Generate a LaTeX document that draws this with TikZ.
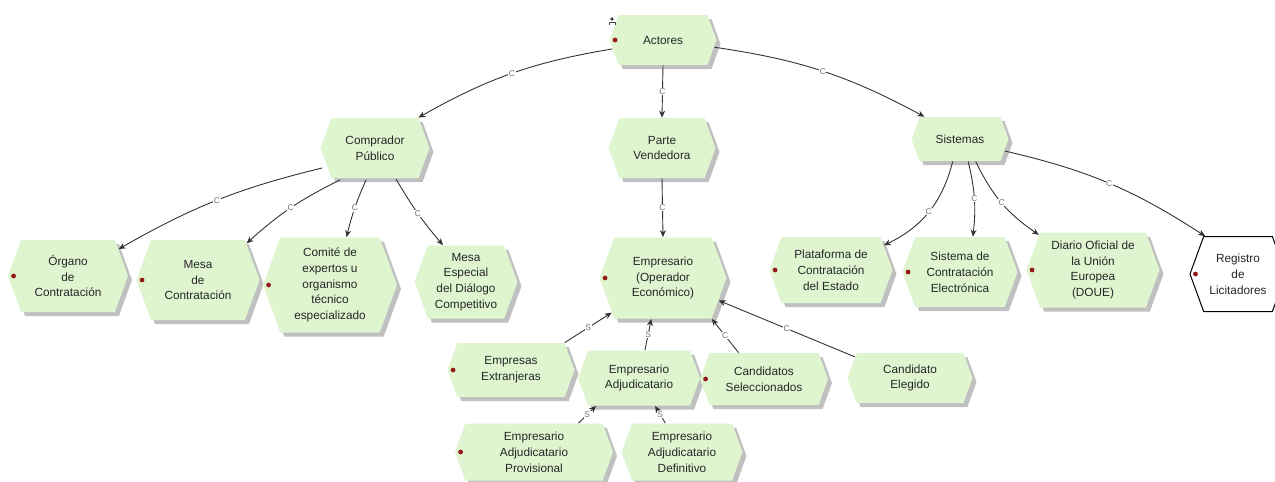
\documentclass[tikz,border=0pt]{standalone}
\usepackage{fontspec}
\setmainfont{Liberation Sans}
\usetikzlibrary{shapes.symbols,shadows,arrows.meta}
\definecolor{fngreen}{RGB}{222,245,208}
\definecolor{dotred}{RGB}{150,25,25}
\definecolor{shadowgray}{RGB}{192,192,192}

\begin{document}
\begin{tikzpicture}[x=0.5pt,y=-0.5pt,
  fn/.style={signal, signal to=east and west, signal pointer angle=140,
    fill=fngreen, draw=none, inner sep=1pt, align=center, text=black!85,
    font=\fontsize{5.9}{7.9}\selectfont,
    drop shadow={opacity=1, fill=shadowgray, shadow xshift=2pt, shadow yshift=-2pt}},
  ext/.style={signal, signal to=east and west, signal pointer angle=140,
    fill=white, draw=black, line width=0.5pt, inner sep=1pt, align=center,
    text=black!85, font=\fontsize{5.9}{7.9}\selectfont},
  rel/.style={draw=black!80, line width=0.45pt, -{Stealth[length=3.5pt,width=3pt]}},
  lb/.style={font=\fontsize{4.2}{5}\selectfont, text=black!55, fill=white, inner sep=0.3pt}]
\useasboundingbox (0,0) rectangle (1275,482);

% top
\node[fn, minimum width=53.5pt, minimum height=25pt] (actores) at (663,40) {Actores};
\node[fn, minimum width=54.5pt, minimum height=30pt] (comprador) at (375,148) {Comprador\\Público};
\node[fn, minimum width=53.5pt, minimum height=30pt] (parte) at (662,148) {Parte\\Vendedora};
\node[fn, minimum width=48.5pt, minimum height=22pt] (sistemas) at (960,139) {Sistemas};

% second row
\node[fn, minimum width=60pt, minimum height=36pt] (organo) at (68,276) {Órgano\\de\\Contratación};
\node[fn, minimum width=61.5pt, minimum height=40pt] (mesa) at (198,280) {Mesa\\de\\Contratación};
\node[fn, minimum width=67pt, minimum height=47.5pt] (comite) at (330,285) {Comité de\\expertos u\\organismo\\técnico\\especializado};
\node[fn, minimum width=51.5pt, minimum height=36.5pt] (especial) at (466,282) {Mesa\\Especial\\del Diálogo\\Competitivo};
\node[fn, minimum width=63.5pt, minimum height=40.5pt] (empresario) at (663,278) {Empresario\\(Operador\\Económico)};
\node[fn, minimum width=61.5pt, minimum height=33pt] (plataforma) at (831,270) {Plataforma de\\Contratación\\del Estado};
\node[fn, minimum width=57.5pt, minimum height=35pt] (sistcon) at (960,272) {Sistema de\\Contratación\\Electrónica};
\node[fn, minimum width=66.5pt, minimum height=37.5pt] (diario) at (1093,270) {Diario Oficial de\\la Unión\\Europea\\(DOUE)};
\node[ext, minimum width=48pt, minimum height=37.5pt] (registro) at (1238,274) {Registro\\de\\Licitadores};

% third row
\node[fn, minimum width=63.5pt, minimum height=27pt] (extranjeras) at (511,370) {Empresas\\Extranjeras};
\node[fn, minimum width=61pt, minimum height=27.5pt] (adjudicatario) at (639,378) {Empresario\\Adjudicatario};
\node[fn, minimum width=64pt, minimum height=26pt] (candidatos) at (764,379) {Candidatos\\Seleccionados};
\node[fn, minimum width=62.5pt, minimum height=25pt] (elegido) at (910,378) {Candidato\\Elegido};

% bottom row
\node[fn, minimum width=79pt, minimum height=28.5pt] (provisional) at (534,452) {Empresario\\Adjudicatario\\Provisional};
\node[fn, minimum width=60.5pt, minimum height=28.5pt] (definitivo) at (682,452) {Empresario\\Adjudicatario\\Definitivo};

% red marks
\foreach \n in {actores,organo,mesa,comite,empresario,plataforma,sistcon,diario,registro,extranjeras,candidatos,provisional}
  \fill[dotred] ([xshift=3pt]\n.west) circle (1.2pt);

% actor icon
\begin{scope}[shift={(612,22)}, black!75, line width=0.45pt]
  \fill (0,-3) circle (0.9pt);
  \draw (-3,3) -- (-3,0) -- (3,0) -- (3,3);
\end{scope}

% relations
\draw[rel] (actores.190) to[bend right=10] node[lb]{C} (comprador.35);
\draw[rel] (actores.south) -- node[lb]{C} (parte.north);
\draw[rel] (actores.352) to[bend left=10] node[lb]{C} (sistemas.148);
\draw[rel] ([shift={(-53,20)}]comprador.center) to[bend right=8] node[lb]{C} (organo.28);
\draw[rel] ([shift={(-35,32)}]comprador.center) to[bend right=8] node[lb]{C} (mesa.37);
\draw[rel] ([shift={(-9,32)}]comprador.center) to[bend right=5] node[lb]{C} (comite.71);
\draw[rel] ([shift={(21,31)}]comprador.center) to[bend right=5] node[lb]{C} (especial.122);
\draw[rel] (parte.south) -- node[lb]{C} (empresario.north);
\draw[rel] (sistemas.252) to[bend left=25] node[lb]{C} (plataforma.25);
\draw[rel] (sistemas.290) to[bend left=10] node[lb]{C} (sistcon.70);
\draw[rel] (sistemas.305) to[bend right=15] node[lb]{C} (diario.147);
\draw[rel] (sistemas.345) to[bend left=10] node[lb]{C} (registro.131);
\draw[rel] (extranjeras.27) -- node[lb]{S} (empresario.214);
\draw[rel] (adjudicatario.78) -- node[lb]{S} (empresario.254);
\draw[rel] (candidatos.134) -- node[lb]{C} (empresario.320);
\draw[rel] (elegido.159) -- node[lb]{C} (empresario.338);
\draw[rel] (provisional.33) -- node[lb]{S} (adjudicatario.213);
\draw[rel] (definitivo.120) -- node[lb]{S} (adjudicatario.300);
\end{tikzpicture}
\end{document}
